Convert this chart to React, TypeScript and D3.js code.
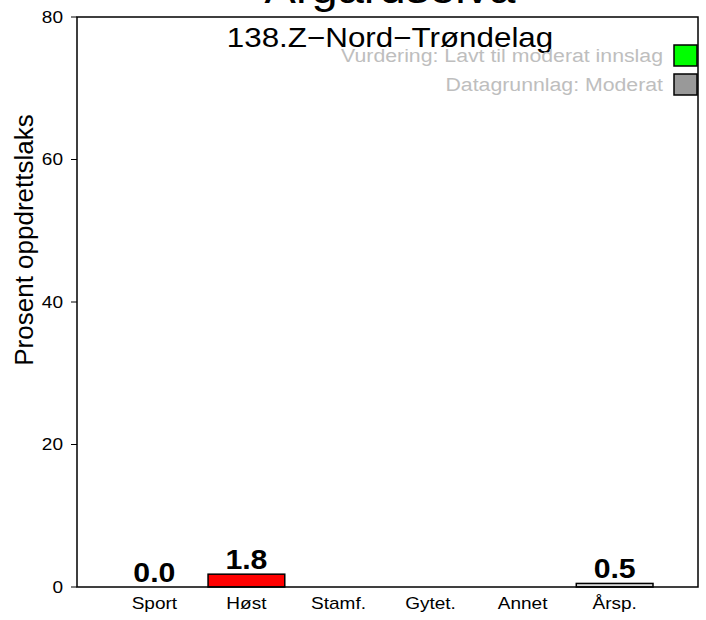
import React from "react";
import * as d3 from "d3";

const categories = ["Sport", "Høst", "Stamf.", "Gytet.", "Annet", "Årsp."];
const values: (number | null)[] = [0.0, 1.8, null, null, null, 0.5];
const barColors = ["#ffffff", "#ff0000", "#ffffff", "#ffffff", "#ffffff", "#d9d9d9"];
const valueLabels = ["0.0", "1.8", "", "", "", "0.5"];
const yTicks = [0, 20, 40, 60, 80];
const mainTitle = "Årgårdselva";
const subTitle = "138.Z−Nord−Trøndelag";
const legendItems = ["Vurdering: Lavt til moderat innslag", "Datagrunnlag: Moderat"];
const legendColors = ["#00ff00", "#999999"];
const yLabel = "Prosent oppdrettslaks";

const W = 706;
const H = 620;
const left = 77;
const right = 698;
const top = 17;
const bottom = 587;
const font = "'Liberation Sans', Arial, Helvetica, sans-serif";
const SX = 1.12;

function T(props: {
  x: number; y: number; size: number; anchor?: string; fill?: string; bold?: boolean; sx?: number; dy?: string; children: React.ReactNode;
}) {
  const sx = props.sx ?? SX;
  return (
    <text
      transform={`translate(${props.x},${props.y}) scale(${sx},1)`}
      textAnchor={props.anchor ?? "middle"}
      fontSize={props.size}
      fontWeight={props.bold ? "bold" : "normal"}
      fill={props.fill ?? "#000"}
      dy={props.dy}
    >
      {props.children}
    </text>
  );
}

export default function App() {
  const x = d3.scaleBand<string>().domain(categories).range([116, 653]).paddingInner(0.2 / 1.2).paddingOuter(0);
  const y = d3.scaleLinear().domain([0, 80]).range([bottom, top]);

  return (
    <div style={{ position: "absolute", left: 0, top: 0 }}>
      <svg width={W} height={H} style={{ display: "block", fontFamily: font }}>
        <rect x={0} y={0} width={W} height={H} fill="#ffffff" />
        {/* main title (clipped at the top) */}
        <T x={390} y={3} size={42}>{mainTitle}</T>
        <T x={390} y={47} size={28}>{subTitle}</T>

        {/* bars */}
        {categories.map((c, i) => {
          const v = values[i];
          if (v === null) return null;
          const x0 = x(c)!;
          return (
            <g key={c}>
              <rect x={x0} y={y(v)} width={x.bandwidth()} height={Math.max(0, y(0) - y(v))}
                fill={barColors[i]} stroke="#000" strokeWidth={1.5} />
              <T x={x0 + x.bandwidth() / 2} y={y(v) - 5} size={28} bold sx={1.08}>{valueLabels[i]}</T>
            </g>
          );
        })}

        {/* box */}
        <rect x={left} y={top} width={right - left} height={bottom - top} fill="none" stroke="#000" strokeWidth={1.5} />

        {/* y axis */}
        {yTicks.map((t) => (
          <g key={t}>
            <line x1={left - 6} x2={left} y1={y(t)} y2={y(t)} stroke="#000" strokeWidth={1} />
            <T x={left - 14} y={y(t)} dy="0.35em" anchor="end" size={17}>{t}</T>
          </g>
        ))}
        <text transform={`translate(33,240) rotate(-90)`} textAnchor="middle" fontSize={26} fill="#000">{yLabel}</text>

        {/* x labels */}
        {categories.map((c) => (
          <T key={c} x={x(c)! + x.bandwidth() / 2} y={609} size={17}>{c}</T>
        ))}

        {/* legend */}
        {legendItems.map((l, i) => (
          <g key={l}>
            <T x={663} y={62 + i * 29} anchor="end" size={19} fill="#bebebe">{l}</T>
            <rect x={674} y={45 + i * 29} width={23} height={21} fill={legendColors[i]} stroke="#000" strokeWidth={1.5} />
          </g>
        ))}
      </svg>
    </div>
  );
}
